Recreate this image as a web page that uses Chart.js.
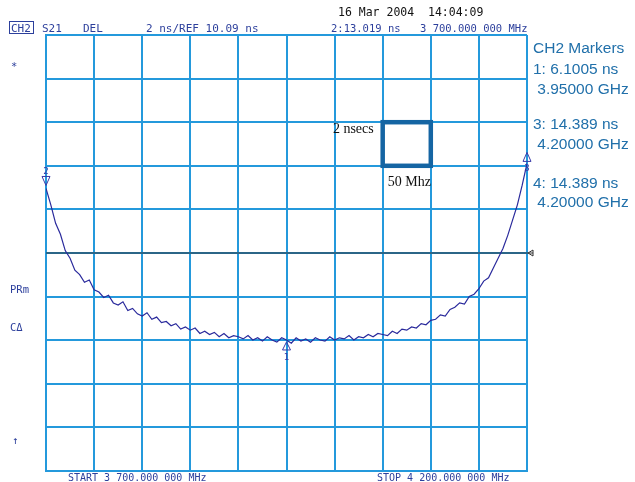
<!DOCTYPE html>
<html>
<head>
<meta charset="utf-8">
<script src="https://cdn.jsdelivr.net/npm/chart.js@4/dist/chart.umd.min.js"></script>
<style>
  body { margin: 0; background: #fff; }
  #wrap { width: 635px; height: 482px; }
</style>
</head>
<body>
<div id="wrap"><canvas id="grafico" width="635" height="482"></canvas></div>
<script>
// frecuencias (MHz), paso de 5 MHz
const freqMHz = [
  3700, 3705, 3710, 3715, 3720, 3725, 3730, 3735, 3740, 3745,
  3750, 3755, 3760, 3765, 3770, 3775, 3780, 3785, 3790, 3795,
  3800, 3805, 3810, 3815, 3820, 3825, 3830, 3835, 3840, 3845,
  3850, 3855, 3860, 3865, 3870, 3875, 3880, 3885, 3890, 3895,
  3900, 3905, 3910, 3915, 3920, 3925, 3930, 3935, 3940, 3945,
  3950, 3955, 3960, 3965, 3970, 3975, 3980, 3985, 3990, 3995,
  4000, 4005, 4010, 4015, 4020, 4025, 4030, 4035, 4040, 4045,
  4050, 4055, 4060, 4065, 4070, 4075, 4080, 4085, 4090, 4095,
  4100, 4105, 4110, 4115, 4120, 4125, 4130, 4135, 4140, 4145,
  4150, 4155, 4160, 4165, 4170, 4175, 4180, 4185, 4190, 4195,
  4200
];

const delayNs = [
  13.05, 12.30, 11.45, 10.95, 10.20, 9.85, 9.30, 9.10, 8.75, 8.85,
  8.40, 8.30, 8.05, 8.15, 7.80, 7.70, 7.85, 7.45, 7.55, 7.30,
  7.20, 7.35, 7.05, 7.15, 6.90, 6.95, 6.75, 6.85, 6.60, 6.70,
  6.55, 6.65, 6.40, 6.50, 6.35, 6.45, 6.25, 6.40, 6.20, 6.30,
  6.25, 6.15, 6.30, 6.10, 6.20, 6.05, 6.25, 6.10, 6.00, 6.20,
  6.10, 5.95, 6.20, 6.05, 6.15, 6.00, 6.20, 6.10, 6.05, 6.25,
  6.10, 6.20, 6.15, 6.30, 6.10, 6.25, 6.20, 6.35, 6.25, 6.40,
  6.35, 6.30, 6.50, 6.40, 6.60, 6.55, 6.70, 6.65, 6.85, 6.80,
  7.00, 7.05, 7.25, 7.20, 7.50, 7.60, 7.80, 7.75, 8.10, 8.20,
  8.45, 8.80, 8.95, 9.40, 9.85, 10.30, 10.90, 11.60, 12.30, 13.20,
  14.20
];

// divisiones: 2 ns/div, REF 10.09 ns en el centro
const yTicksNs = [0.09, 2.09, 4.09, 6.09, 8.09, 10.09, 12.09, 14.09, 16.09, 18.09, 20.09];
const xTicksMHz = [3700, 3750, 3800, 3850, 3900, 3950, 4000, 4050, 4100, 4150, 4200];
const refNs = 10.09;

const markerLabels = ['CH2 Markers', '1: 6.1005 ns', ' 3.95000 GHz', '3: 14.389 ns', ' 4.20000 GHz', '4: 14.389 ns', ' 4.20000 GHz'];

const azulRejilla = '#2499dc';
const azulTexto = '#2c3f9c';

const overlay = {
  id: 'overlay',
  beforeDatasetsDraw(chart) {
    const ctx = chart.ctx;
    const x = chart.scales.x, y = chart.scales.y;
    const yr = y.getPixelForValue(refNs);
    ctx.save();
    ctx.strokeStyle = '#333';
    ctx.lineWidth = 1;
    ctx.beginPath();
    ctx.moveTo(x.left, yr);
    ctx.lineTo(x.right + 6, yr);
    ctx.stroke();
    // flecha de referencia
    ctx.beginPath();
    ctx.moveTo(x.right + 1, yr);
    ctx.lineTo(x.right + 6, yr - 3);
    ctx.lineTo(x.right + 6, yr + 3);
    ctx.closePath();
    ctx.stroke();
    ctx.restore();
  },
  afterDraw(chart) {
    const ctx = chart.ctx;
    const x = chart.scales.x, y = chart.scales.y;
    ctx.save();

    // cuadro 2 nsecs / 50 Mhz
    const bx0 = x.getPixelForValue(4050), bx1 = x.getPixelForValue(4100);
    const by0 = y.getPixelForValue(16.09), by1 = y.getPixelForValue(14.09);
    ctx.strokeStyle = '#1565a3';
    ctx.lineWidth = 4.5;
    ctx.strokeRect(bx0, by0, bx1 - bx0, by1 - by0);
    ctx.fillStyle = '#111';
    ctx.font = '14px "Liberation Serif", serif';
    ctx.textBaseline = 'alphabetic';
    ctx.textAlign = 'right';
    ctx.fillText('2 nsecs', bx0 - 9, by0 + 11);
    ctx.textAlign = 'left';
    ctx.fillText('50 Mhz', bx0 + 5, by1 + 20);

    // marcadores de la traza
    ctx.strokeStyle = '#3a3aa8';
    ctx.fillStyle = '#3a3aa8';
    ctx.lineWidth = 1;
    const m2x = x.getPixelForValue(3700), m2y = y.getPixelForValue(delayNs[0]);
    ctx.beginPath();
    ctx.moveTo(m2x - 4, m2y - 12); ctx.lineTo(m2x + 4, m2y - 12); ctx.lineTo(m2x, m2y - 3); ctx.closePath();
    ctx.stroke();
    ctx.font = '9px "DejaVu Sans Mono", monospace';
    ctx.textAlign = 'center';
    ctx.fillText('2', m2x, m2y - 14);

    const m1x = x.getPixelForValue(3950), m1y = y.getPixelForValue(6.10);
    ctx.beginPath();
    ctx.moveTo(m1x - 4, m1y + 10); ctx.lineTo(m1x + 4, m1y + 10); ctx.lineTo(m1x, m1y + 2); ctx.closePath();
    ctx.stroke();
    ctx.fillText('1', m1x, m1y + 20);

    const m3x = x.getPixelForValue(4200), m3y = y.getPixelForValue(delayNs[delayNs.length - 1]);
    ctx.beginPath();
    ctx.moveTo(m3x - 4, m3y - 2); ctx.lineTo(m3x + 4, m3y - 2); ctx.lineTo(m3x, m3y - 11); ctx.closePath();
    ctx.stroke();
    ctx.fillText('3', m3x, m3y + 8);

    // cabecera del analizador
    ctx.textAlign = 'left';
    ctx.fillStyle = '#111';
    ctx.font = '11.5px "DejaVu Sans Mono", monospace';
    ctx.fillText('16 Mar 2004  14:04:09', 338, 16);

    ctx.fillStyle = azulTexto;
    ctx.font = '11px "DejaVu Sans Mono", monospace';
    ctx.fillText('CH2', 11, 32);
    ctx.strokeStyle = azulTexto;
    ctx.strokeRect(9.5, 21.5, 24, 12);
    ctx.fillText('S21', 42, 32);
    ctx.fillText('DEL', 83, 32);
    ctx.fillText('2 ns/REF 10.09 ns', 146, 32);
    ctx.font = '10.5px "DejaVu Sans Mono", monospace';
    ctx.fillText('2:13.019 ns', 331, 32);
    ctx.fillText('3 700.000 000 MHz', 420, 32);

    ctx.font = '10px "DejaVu Sans Mono", monospace';
    ctx.fillText('START 3 700.000 000 MHz', 68, 481);
    ctx.fillText('STOP 4 200.000 000 MHz', 377, 481);

    ctx.font = '10.5px "DejaVu Sans Mono", monospace';
    ctx.fillText('*', 11, 70);
    ctx.fillText('PRm', 10, 293);
    ctx.fillText('C\u0394', 10, 331);
    ctx.fillText('\u2191', 12, 444);

    // leyenda de marcadores
    ctx.fillStyle = '#2170aa';
    ctx.font = '15.5px "Liberation Sans", Arial, sans-serif';
    const filas = [53, 74, 94, 129, 149, 188, 207];
    markerLabels.forEach(function (t, i) {
      ctx.fillText(t, 533, filas[i]);
    });
    ctx.restore();
  }
};

const ctx = document.getElementById('grafico').getContext('2d');
const myChart = new Chart(ctx, {
  type: 'line',
  data: {
    datasets: [{
      label: 'S21 DEL',
      data: freqMHz.map(function (f, i) { return { x: f, y: delayNs[i] }; }),
      borderColor: '#2a2a9c',
      borderWidth: 1.2,
      pointRadius: 0,
      tension: 0,
      fill: false
    }]
  },
  options: {
    responsive: false,
    animation: false,
    layout: { padding: { left: 46, right: 108, top: 35, bottom: 11 } },
    plugins: { legend: { display: false }, tooltip: { enabled: false } },
    scales: {
      x: {
        type: 'linear',
        min: 3700,
        max: 4200,
        afterBuildTicks: function (axis) { axis.ticks = xTicksMHz.map(function (v) { return { value: v }; }); },
        ticks: { display: false },
        grid: { color: azulRejilla, lineWidth: 2, drawTicks: false },
        border: { color: azulRejilla, width: 2 }
      },
      y: {
        type: 'linear',
        min: 0.09,
        max: 20.09,
        afterBuildTicks: function (axis) { axis.ticks = yTicksNs.map(function (v) { return { value: v }; }); },
        ticks: { display: false },
        grid: { color: azulRejilla, lineWidth: 2, drawTicks: false },
        border: { color: azulRejilla, width: 2 }
      }
    }
  },
  plugins: [overlay]
});
</script>
</body>
</html>
